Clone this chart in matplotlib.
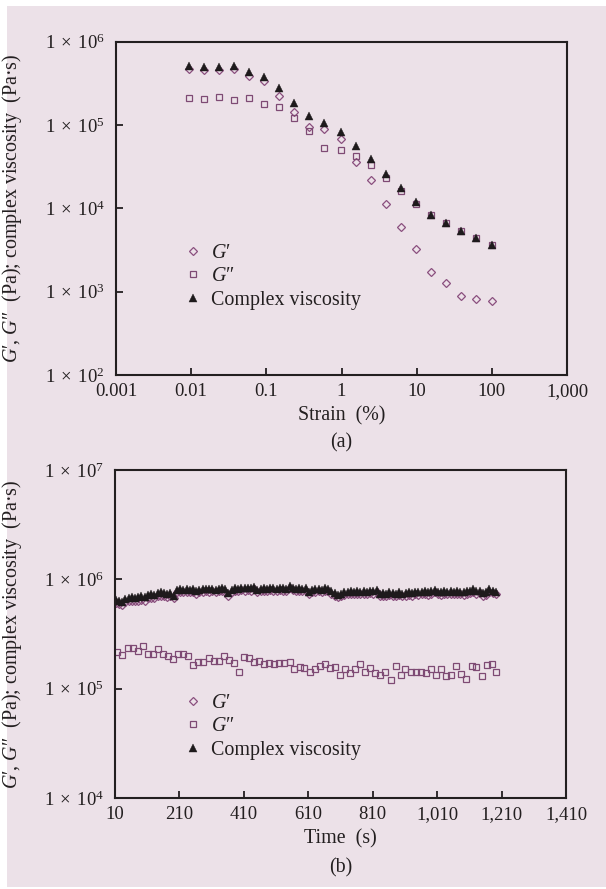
import matplotlib
matplotlib.use("Agg")
import matplotlib.pyplot as plt
from matplotlib.patches import Rectangle
from matplotlib.ticker import FixedLocator, FixedFormatter, NullLocator

plt.rcParams['font.family'] = ['Liberation Serif', 'DejaVu Serif']
plt.rcParams['mathtext.fontset'] = 'custom'
plt.rcParams['mathtext.rm'] = 'Liberation Serif'
plt.rcParams['mathtext.it'] = 'Liberation Serif:italic'

# ---------------- Panel (a): strain sweep ----------------
strain = [0.0093, 0.0148, 0.0234, 0.0372, 0.0589, 0.0933, 0.148, 0.234, 0.372, 0.589,
          0.99, 1.57, 2.49, 3.94, 6.25, 9.91, 15.7, 24.9, 39.4, 62.5, 99.1]
gp_a = [4.74e5, 4.61e5, 4.57e5, 4.74e5, 3.87e5, 3.34e5, 2.25e5, 1.42e5, 9.55e4, 9.04e4,
        6.73e4, 3.6e4, 2.19e4, 1.12e4, 5.97e3, 3.22e3, 1.72e3, 1.28e3, 887, 817, 773]
gpp_a = [2.13e5, 2.03e5, 2.15e5, 1.98e5, 2.13e5, 1.79e5, 1.66e5, 1.2e5, 8.47e4, 5.35e4,
         5.06e4, 4.29e4, 3.28e4, 2.29e4, 1.63e4, 1.14e4, 8.3e3, 6.67e3, 5.3e3, 4.45e3, 3.6e3]
eta_a = [5.15e5, 5.0e5, 5.0e5, 5.08e5, 4.37e5, 3.73e5, 2.78e5, 1.85e5, 1.28e5, 1.05e5,
         8.3e4, 5.6e4, 3.94e4, 2.58e4, 1.77e4, 1.18e4, 8.3e3, 6.67e3, 5.3e3, 4.45e3, 3.6e3]
xt_a = [0.001, 0.01, 0.1, 1, 10, 100, 1000]
xl_a = ["0.001", "0.01", "0.1", "1", "10", "100", "1,000"]
yt_a = [1e2, 1e3, 1e4, 1e5, 1e6]
yl_a = [r"$1\;\times\;10^{2}$", r"$1\;\times\;10^{3}$", r"$1\;\times\;10^{4}$",
        r"$1\;\times\;10^{5}$", r"$1\;\times\;10^{6}$"]

# ---------------- Panel (b): time sweep ----------------
time_gpp = [17, 32, 49, 65, 80, 96, 112, 127, 144, 158, 174, 189, 207, 222, 237, 252, 269, 284,
            301, 316, 332, 347, 363, 378, 395, 410, 425, 441, 456, 471, 489, 505, 520, 536, 552,
            567, 583, 598, 614, 630, 646, 661, 677, 692, 708, 724, 740, 755, 772, 787, 803, 818,
            834, 848, 866, 881, 897, 911, 929, 944, 960, 975, 992, 1007, 1023, 1038, 1054, 1069,
            1085, 1100, 1117, 1132, 1148, 1164, 1180, 1194]
gpp_b = [2.18e5, 2.03e5, 2.37e5, 2.37e5, 2.21e5, 2.47e5, 2.07e5, 2.07e5, 2.29e5, 2.07e5, 1.99e5,
         1.85e5, 2.07e5, 2.09e5, 2.0e5, 1.65e5, 1.75e5, 1.76e5, 1.89e5, 1.78e5, 1.78e5, 2.0e5,
         1.82e5, 1.70e5, 1.43e5, 1.96e5, 1.92e5, 1.75e5, 1.79e5, 1.68e5, 1.73e5, 1.69e5, 1.71e5,
         1.73e5, 1.76e5, 1.52e5, 1.59e5, 1.53e5, 1.42e5, 1.51e5, 1.60e5, 1.67e5, 1.54e5, 1.59e5,
         1.33e5, 1.52e5, 1.39e5, 1.51e5, 1.69e5, 1.43e5, 1.53e5, 1.38e5, 1.33e5, 1.43e5, 1.21e5,
         1.62e5, 1.32e5, 1.51e5, 1.42e5, 1.42e5, 1.42e5, 1.39e5, 1.51e5, 1.33e5, 1.51e5, 1.30e5,
         1.32e5, 1.61e5, 1.36e5, 1.22e5, 1.62e5, 1.59e5, 1.30e5, 1.64e5, 1.68e5, 1.42e5]

time_eta = [12, 22, 32, 42, 52, 62, 72, 82, 92, 102, 112, 122, 132, 142, 152, 162, 172, 182, 192,
            202, 212, 222, 232, 242, 252, 262, 272, 282, 292, 302, 312, 322, 332, 342, 352, 362,
            372, 382, 392, 402, 412, 422, 432, 442, 452, 462, 472, 482, 492, 502, 512, 522, 532,
            542, 552, 562, 572, 582, 592, 602, 612, 622, 632, 642, 652, 662, 672, 682, 692, 702,
            712, 722, 732, 742, 752, 762, 772, 782, 792, 802, 812, 822, 832, 842, 852, 862, 872,
            882, 892, 902, 912, 922, 932, 942, 952, 962, 972, 982, 992, 1002, 1012, 1022, 1032,
            1042, 1052, 1062, 1072, 1082, 1092, 1102, 1112, 1122, 1132, 1142, 1152, 1162, 1172,
            1182, 1192]
eta_b = [6.5e5, 6.3e5, 6.2e5, 6.6e5, 6.8e5, 6.9e5, 6.8e5, 6.9e5, 7.0e5, 6.9e5, 7.2e5, 7.3e5,
         7.2e5, 7.5e5, 7.6e5, 7.5e5, 7.4e5, 7.5e5, 7.1e5, 8.0e5, 8.1e5, 8.0e5, 8.1e5, 8.0e5,
         8.1e5, 7.8e5, 8.0e5, 8.1e5, 8.2e5, 8.1e5, 8.2e5, 8.0e5, 8.2e5, 8.3e5, 8.1e5, 7.5e5,
         8.0e5, 8.3e5, 8.2e5, 8.4e5, 8.3e5, 8.4e5, 8.3e5, 8.5e5, 8.0e5, 8.2e5, 8.3e5, 8.2e5,
         8.4e5, 8.3e5, 8.2e5, 8.4e5, 8.3e5, 8.2e5, 8.7e5, 8.4e5, 8.2e5, 8.3e5, 8.2e5, 8.3e5,
         7.7e5, 8.0e5, 8.1e5, 8.2e5, 8.0e5, 8.3e5, 8.2e5, 7.8e5, 7.5e5, 7.2e5, 7.4e5, 7.6e5,
         7.7e5, 7.8e5, 7.7e5, 7.8e5, 7.7e5, 7.8e5, 7.7e5, 7.9e5, 7.8e5, 8.0e5, 7.4e5, 7.5e5,
         7.4e5, 7.6e5, 7.5e5, 7.4e5, 7.6e5, 7.4e5, 7.5e5, 7.6e5, 7.5e5, 7.7e5, 7.6e5, 7.7e5,
         7.8e5, 7.6e5, 7.8e5, 8.0e5, 7.7e5, 7.6e5, 7.8e5, 7.7e5, 7.8e5, 7.7e5, 7.8e5, 7.7e5,
         7.6e5, 7.8e5, 7.9e5, 8.1e5, 7.8e5, 7.9e5, 7.5e5, 7.6e5, 8.1e5, 7.9e5, 7.7e5]
gp_b = [6.1e5, 5.9e5, 5.8e5, 6.2e5, 6.3e5, 6.4e5, 6.3e5, 6.4e5, 6.5e5, 6.4e5, 6.7e5, 6.8e5,
        6.7e5, 7.0e5, 7.1e5, 7.0e5, 6.9e5, 7.0e5, 6.7e5, 7.6e5, 7.7e5, 7.6e5, 7.7e5, 7.6e5,
        7.7e5, 7.4e5, 7.6e5, 7.7e5, 7.8e5, 7.7e5, 7.8e5, 7.6e5, 7.8e5, 7.9e5, 7.7e5, 7.1e5,
        7.6e5, 7.9e5, 7.8e5, 8.0e5, 7.9e5, 8.0e5, 7.9e5, 8.1e5, 7.6e5, 7.8e5, 7.9e5, 7.8e5,
        8.0e5, 7.9e5, 7.8e5, 8.0e5, 7.9e5, 7.8e5, 8.3e5, 8.0e5, 7.8e5, 7.9e5, 7.8e5, 7.9e5,
        7.3e5, 7.6e5, 7.7e5, 7.8e5, 7.6e5, 7.9e5, 7.8e5, 7.4e5, 7.1e5, 6.9e5, 7.0e5, 7.2e5,
        7.3e5, 7.4e5, 7.3e5, 7.4e5, 7.3e5, 7.4e5, 7.3e5, 7.5e5, 7.4e5, 7.6e5, 7.0e5, 7.1e5,
        7.0e5, 7.2e5, 7.1e5, 7.0e5, 7.2e5, 7.0e5, 7.1e5, 7.2e5, 7.1e5, 7.3e5, 7.2e5, 7.3e5,
        7.4e5, 7.2e5, 7.4e5, 7.6e5, 7.3e5, 7.2e5, 7.4e5, 7.3e5, 7.4e5, 7.3e5, 7.4e5, 7.3e5,
        7.2e5, 7.4e5, 7.5e5, 7.7e5, 7.4e5, 7.5e5, 7.1e5, 7.2e5, 7.7e5, 7.5e5, 7.3e5]
xt_b = [10, 210, 410, 610, 810, 1010, 1210, 1410]
xl_b = ["10", "210", "410", "610", "810", "1,010", "1,210", "1,410"]
yt_b = [1e4, 1e5, 1e6, 1e7]
yl_b = [r"$1\;\times\;10^{4}$", r"$1\;\times\;10^{5}$", r"$1\;\times\;10^{6}$",
        r"$1\;\times\;10^{7}$"]

labels = [r"$G$′", r"$G$″", "Complex viscosity"]
ylabel = r"$G$′, $G$″  (Pa); complex viscosity  (Pa·s)"

# ---------------- styling ----------------
W, H = 606, 889
BG = '#ECE1E8'
TXT = '#231F20'
C_GP = '#8A4F7E'
C_GPP = '#7E4A74'
C_ETA = '#1E1A1C'

fig = plt.figure(figsize=(W / 100, H / 100), dpi=100, facecolor='white')
fig.patches.append(Rectangle((7 / W, 2 / H), 1 - 7 / W, 1 - 8 / H, transform=fig.transFigure,
                             facecolor=BG, edgecolor='none', zorder=-10))


def style_axes(ax):
    ax.set_facecolor(BG)
    for s in ax.spines.values():
        s.set_linewidth(1.5)
        s.set_color(TXT)
    ax.tick_params(axis='both', which='major', direction='in', length=5, width=1.3,
                   colors=TXT, labelsize=13.5, top=False, right=False)
    ax.tick_params(axis='x', pad=6)
    ax.tick_params(axis='y', pad=8)


def draw(ax, x_gp, gp, x_gpp, gpp, x_eta, eta):
    ax.plot(x_gp, gp, linestyle='none', marker='D', ms=4.2, mfc='none', mec=C_GP, mew=0.9,
            label=labels[0])
    ax.plot(x_gpp, gpp, linestyle='none', marker='s', ms=4.6, mfc='none', mec=C_GPP, mew=0.9,
            label=labels[1])
    ax.plot(x_eta, eta, linestyle='none', marker='^', ms=5.2, mfc=C_ETA, mec=C_ETA, mew=0.3,
            label=labels[2])


# Panel a
axa = fig.add_axes([116 / W, 1 - 375 / H, 451 / W, 333.3 / H])
style_axes(axa)
draw(axa, strain, gp_a, strain, gpp_a, strain, eta_a)
axa.set_xscale('log')
axa.set_yscale('log')
axa.set_xlim(1e-3, 1e3)
axa.set_ylim(1e2, 1e6)
axa.xaxis.set_major_locator(FixedLocator(xt_a))
axa.xaxis.set_major_formatter(FixedFormatter(xl_a))
axa.yaxis.set_major_locator(FixedLocator(yt_a))
axa.yaxis.set_major_formatter(FixedFormatter(yl_a))
axa.xaxis.set_minor_locator(NullLocator())
axa.yaxis.set_minor_locator(NullLocator())
axa.set_xlabel("Strain  (%)", fontsize=14.4, color=TXT, labelpad=4)
axa.set_ylabel(ylabel, fontsize=14.4, color=TXT)
axa.yaxis.set_label_coords(-0.205, 0.5)
axa.legend(loc='upper left', bbox_to_anchor=(0.153, 0.393), frameon=False, fontsize=14.4,
           handlelength=0.8, handletextpad=0.5, labelspacing=0.22, borderpad=0,
           borderaxespad=0, labelcolor=TXT)

# Panel b
axb = fig.add_axes([115 / W, 1 - 798 / H, 451 / W, 328 / H])
style_axes(axb)
draw(axb, time_eta, gp_b, time_gpp, gpp_b, time_eta, eta_b)
axb.set_yscale('log')
axb.set_xlim(10, 1410)
axb.set_ylim(1e4, 1e7)
axb.xaxis.set_major_locator(FixedLocator(xt_b))
axb.xaxis.set_major_formatter(FixedFormatter(xl_b))
axb.yaxis.set_major_locator(FixedLocator(yt_b))
axb.yaxis.set_major_formatter(FixedFormatter(yl_b))
axb.xaxis.set_minor_locator(NullLocator())
axb.yaxis.set_minor_locator(NullLocator())
axb.set_xlabel("Time  (s)", fontsize=14.4, color=TXT, labelpad=4)
axb.set_ylabel(ylabel, fontsize=14.4, color=TXT)
axb.yaxis.set_label_coords(-0.202, 0.5)
axb.legend(loc='upper left', bbox_to_anchor=(0.155, 0.317), frameon=False, fontsize=14.4,
           handlelength=0.8, handletextpad=0.5, labelspacing=0.22, borderpad=0,
           borderaxespad=0, labelcolor=TXT)

fig.text(0.5 * (116 + 567) / W, 1 - 443 / H, "(a)", ha='center', va='center', fontsize=14.4, color=TXT)
fig.text(0.5 * (115 + 566) / W, 1 - 868 / H, "(b)", ha='center', va='center', fontsize=14.4, color=TXT)

fig.savefig("out.png", dpi=100, facecolor=fig.get_facecolor())
